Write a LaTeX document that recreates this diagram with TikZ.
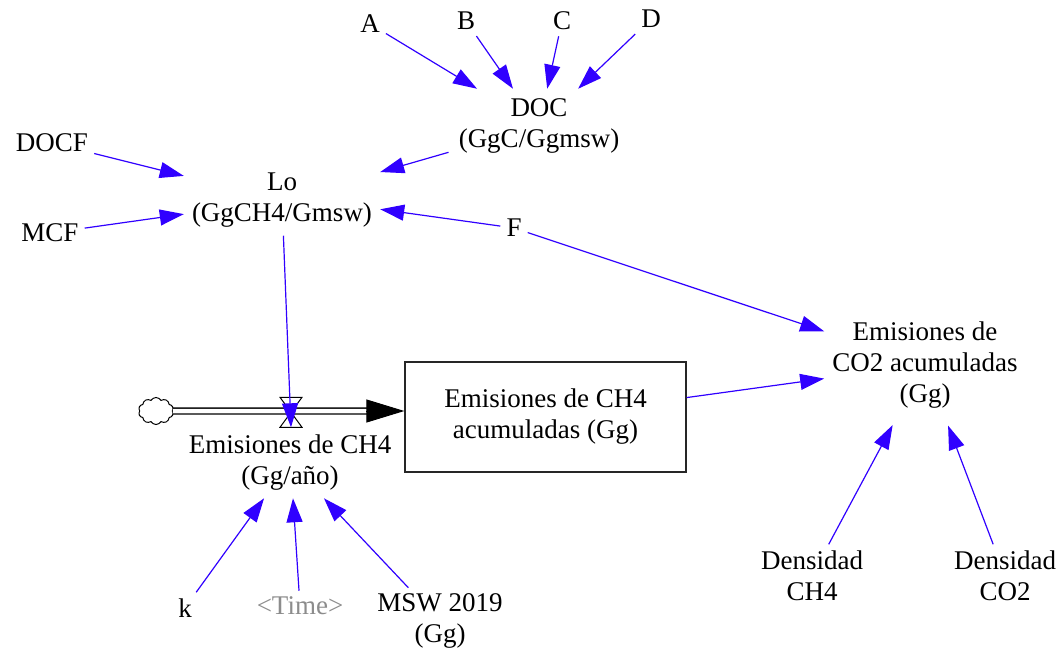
\documentclass[tikz,border=0pt]{standalone}
\usepackage{fontspec}
\setmainfont{Liberation Serif}
\usetikzlibrary{arrows.meta,shapes.symbols,calc}
\definecolor{linkblue}{RGB}{48,0,255}
\definecolor{timegray}{RGB}{140,140,140}
\begin{document}
\begin{tikzpicture}[x=1pt,y=-1pt,
  every node/.style={font=\fontsize{27}{31}\selectfont, align=center},
  lbl/.style={inner sep=6pt},
  big/.style={inner sep=8pt},
  link/.style={draw=linkblue, line width=1.2pt, -{Triangle[length=24pt,width=16pt]}},
  pipe/.style={draw=black, double=white, double distance=4.5pt, line width=1.3pt},
  flowhead/.style={-{Triangle[length=38pt,width=23pt]}, line width=1pt, draw=black},
  stockbox/.style={draw=black!85, line width=1.3pt, minimum width=281pt, minimum height=110pt, inner sep=0pt},
  valvebox/.style={inner sep=0pt, outer sep=0pt, minimum width=22pt, minimum height=30pt},
  source/.style={cloud, cloud puffs=10, cloud puff arc=120, aspect=1.3, draw=black, line width=1pt, inner sep=0pt, minimum width=35pt, minimum height=27pt},
]
\useasboundingbox (0,0) rectangle (1064,652);

% auxiliaries and stocks
\node[lbl] (A) at (370,23.9) {A};
\node[lbl] (B) at (466,21) {B};
\node[lbl] (C) at (562,21) {C};
\node[lbl] (D) at (651,19) {D};
\node[inner sep=10pt] (DOC) at (539,126.3) {DOC\\(GgC/Ggmsw)};
\node[lbl] (DOCF) at (52,143) {DOCF};
\node[lbl] (MCF) at (50,233) {MCF};
\node[big] (Lo) at (282,200.3) {Lo\\(GgCH4/Gmsw)};
\node[lbl] (F) at (514,228) {F};
\node[big] (CO2) at (925,364.8) {Emisiones de\\CO2 acumuladas\\(Gg)};
\node[stockbox] (stock) at (545.5,417) {Emisiones de CH4\\acumuladas (Gg)};
\node[source] (cloud) at (156,411) {};
\node[valvebox] (valve) at (291,412.3) {};
\node[big] (flow) at (290,462.3) {Emisiones de CH4\\(Gg/año)};
\node[lbl] (k) at (185,607.8) {k};
\node[lbl, text=timegray] (time) at (300,606) {<Time>};
\node[lbl] (MSW) at (440,621.3) {MSW 2019\\(Gg)};
\node[lbl] (dch4) at (812,575.5) {Densidad\\CH4};
\node[lbl] (dco2) at (1005,575.5) {Densidad\\CO2};

% flow pipe
\draw[pipe] (cloud.east) -- ($(stock.west |- cloud)+(-36,0)$);
\draw[flowhead] ($(stock.west |- cloud)+(-38,0)$) -- (stock.west |- cloud);
\draw[line width=1pt, fill=white] (valve.north west) -- (valve.north east) -- (valve.center) -- cycle;
\draw[line width=1pt, fill=white] (valve.south west) -- (valve.south east) -- (valve.center) -- cycle;

% links
\draw[link] (A) -- (DOC);
\draw[link] (B) -- (DOC);
\draw[link] (C) -- (DOC);
\draw[link] (D) -- (DOC);
\draw[link] (DOC) -- (Lo);
\draw[link] (DOCF) -- (Lo);
\draw[link] (MCF) -- (Lo);
\draw[link] (F) -- ($(Lo.east)+(0,9)$);
\draw[link] (F) -- (CO2);
\draw[link] (stock) -- (CO2);
\draw[link] (Lo) -- (valve.south);
\draw[link] (k) -- (flow);
\draw[link] (time) -- ($(flow.south)+(3,0)$);
\draw[link] (MSW) -- (flow);
\draw[link, shorten >=10pt] (dch4) -- (CO2);
\draw[link, shorten >=10pt] (dco2) -- (CO2);
\end{tikzpicture}
\end{document}
